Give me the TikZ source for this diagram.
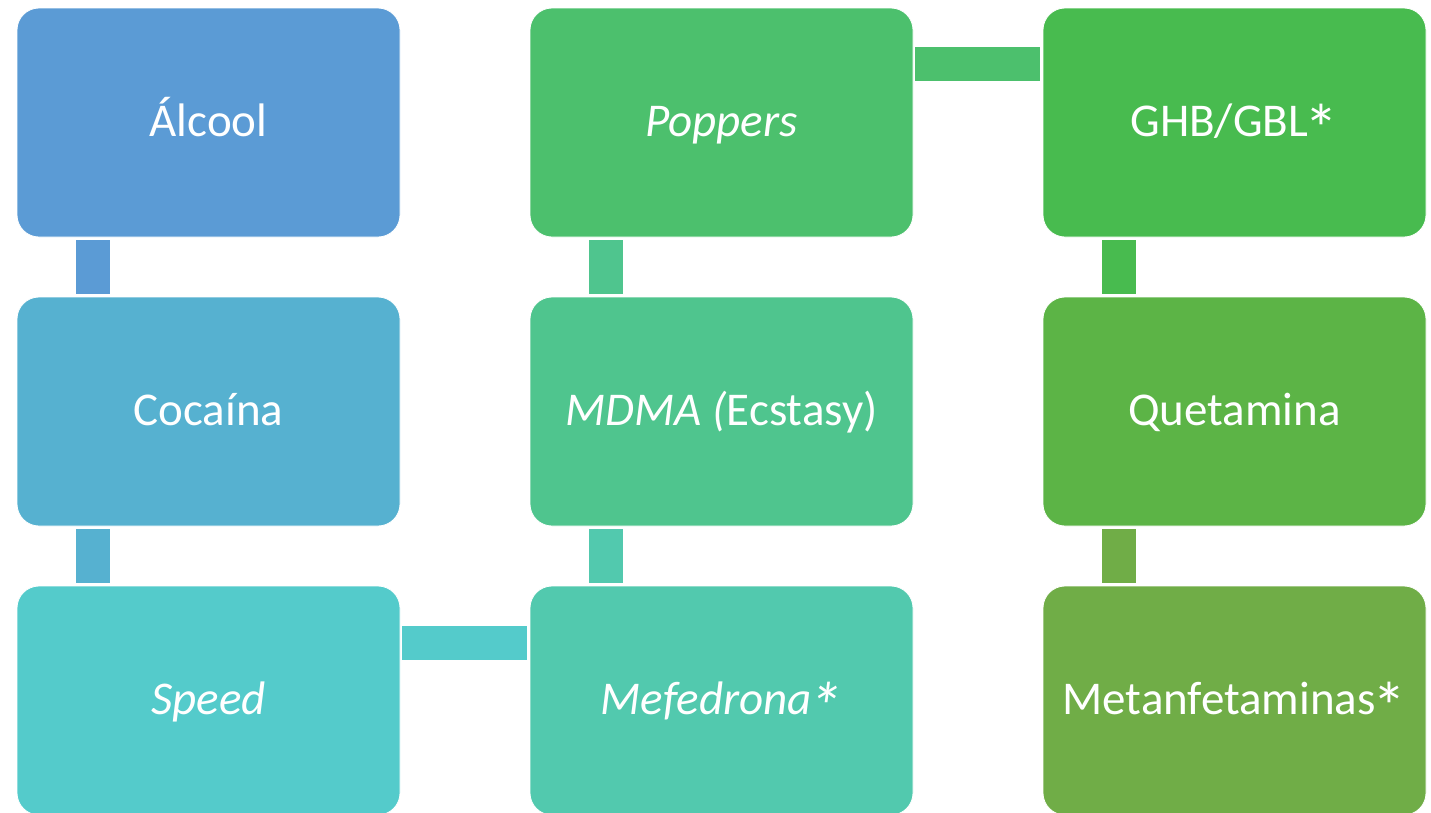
\documentclass[tikz,border=0pt]{standalone}
\usepackage{fontspec}
\usepackage{graphicx}
\setmainfont{Carlito}
\newcommand{\bigast}{\kern-0.07em\raisebox{-0.33em}{\scalebox{1.45}{*}}}
\definecolor{cA}{HTML}{5B9BD5}
\definecolor{cB}{HTML}{56B1D0}
\definecolor{cC}{HTML}{54CBCB}
\definecolor{cD}{HTML}{52C9AE}
\definecolor{cE}{HTML}{4FC58E}
\definecolor{cF}{HTML}{4CC06D}
\definecolor{cG}{HTML}{48BB4F}
\definecolor{cH}{HTML}{5CB446}
\definecolor{cI}{HTML}{70AD47}
\tikzset{
  box/.style={rectangle, rounded corners=22pt, draw=white, line width=0.8pt,
    minimum width=383pt, minimum height=229pt, inner sep=0pt, text=white,
    text height=38pt, text depth=10pt,
    font=\fontsize{47}{56}\selectfont},
  bar/.style={line width=34pt, line cap=butt}
}
\begin{document}
\begin{tikzpicture}[x=1pt,y=-1pt]
\useasboundingbox (0,0) rectangle (1431,812);
% column 1
\node[box, fill=cA] (alc) at (208.5,122.5) {Álcool};
\node[box, fill=cB] (coc) at (208.5,411.5) {Cocaína};
\node[box, fill=cC] (spd) at (208.5,700.5) {\itshape Speed};
% column 2
\node[box, fill=cD] (mef) at (721.5,700.5) {\itshape Mefedrona\bigast};
\node[box, fill=cE] (mdma) at (721.5,411.5) {\textit{MDMA (}Ecstasy)};
\node[box, fill=cF] (pop) at (721.5,122.5) {\itshape Poppers};
% column 3
\node[box, fill=cG] (ghb) at (1234.5,122.5) {GHB/GBL\bigast};
\node[box, fill=cH] (que) at (1234.5,411.5) {Quetamina};
\node[box, fill=cI] (met) at (1234.5,700.5) {Metanfetaminas\bigast};
% connectors
\draw[bar, cA] ([xshift=-115.5pt,yshift=-3pt]alc.south) -- ([xshift=-115.5pt,yshift=3pt]coc.north);
\draw[bar, cB] ([xshift=-115.5pt,yshift=-3pt]coc.south) -- ([xshift=-115.5pt,yshift=3pt]spd.north);
\draw[bar, cC] ([xshift=2pt,yshift=58pt]spd.east) -- ([xshift=-3pt,yshift=58pt]mef.west);
\draw[bar, cD] ([xshift=-115.5pt,yshift=3pt]mef.north) -- ([xshift=-115.5pt,yshift=-3pt]mdma.south);
\draw[bar, cE] ([xshift=-115.5pt,yshift=3pt]mdma.north) -- ([xshift=-115.5pt,yshift=-3pt]pop.south);
\draw[bar, cF] ([xshift=2pt,yshift=59pt]pop.east) -- ([xshift=-3pt,yshift=59pt]ghb.west);
\draw[bar, cG] ([xshift=-115.5pt,yshift=-3pt]ghb.south) -- ([xshift=-115.5pt,yshift=3pt]que.north);
\draw[bar, cI] ([xshift=-115.5pt,yshift=-3pt]que.south) -- ([xshift=-115.5pt,yshift=3pt]met.north);
\end{tikzpicture}
\end{document}
